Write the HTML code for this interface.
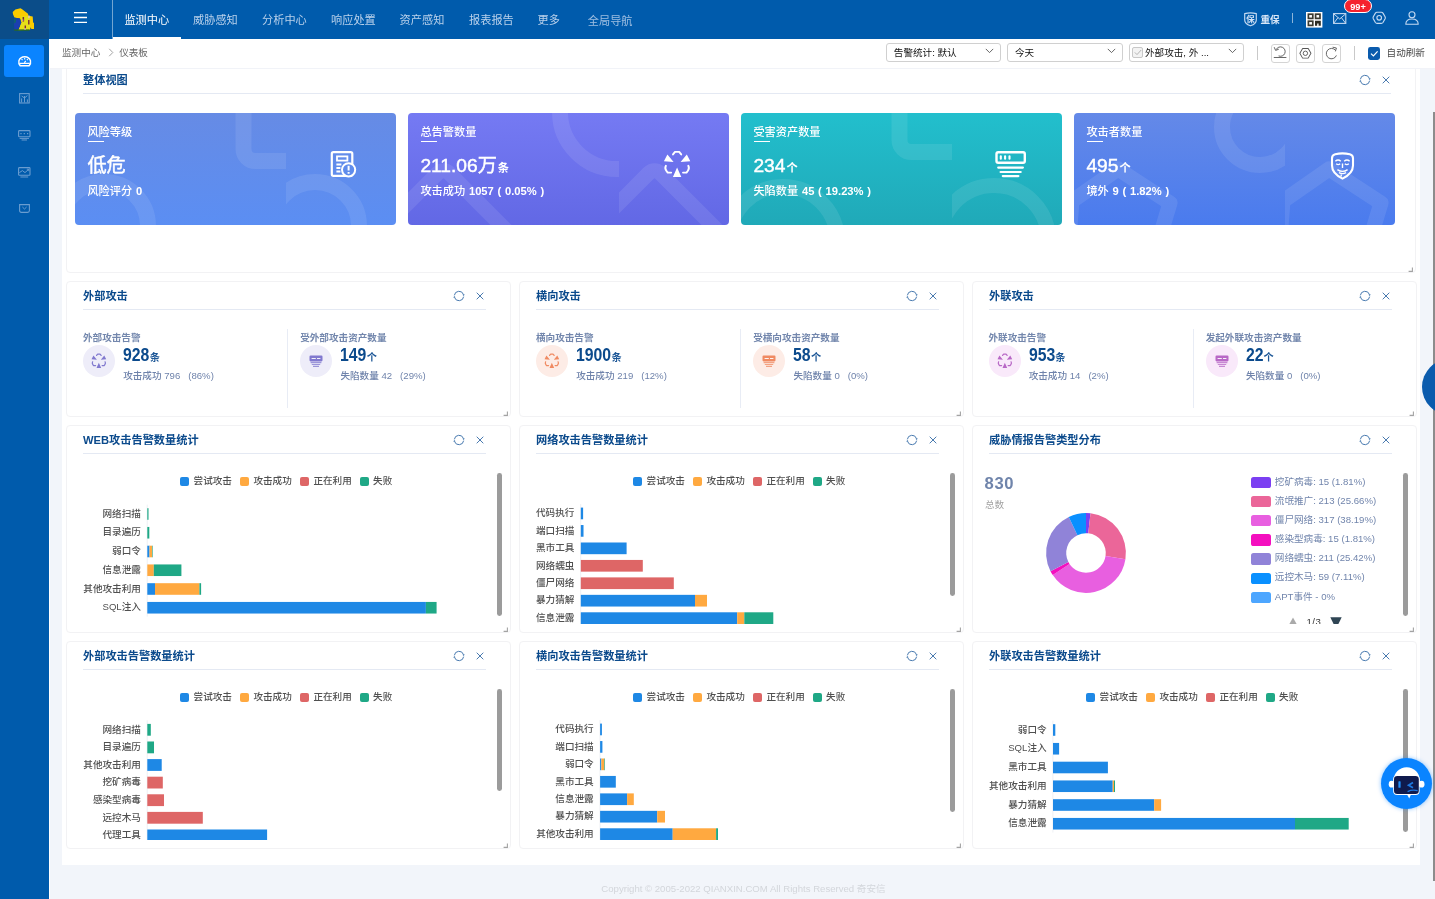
<!DOCTYPE html><html lang="zh-CN"><head><meta charset="utf-8"><title>仪表板</title><style>
*{box-sizing:border-box;margin:0;padding:0}
html,body{width:1435px;height:899px;overflow:hidden;background:#f2f5fa;font-family:"Liberation Sans","Noto Sans CJK SC",sans-serif;}
#root{position:relative;width:1435px;height:899px;overflow:hidden;background:#f2f5fa;}
.t{position:absolute;white-space:nowrap;}
.b{position:absolute;}
svg{position:absolute;overflow:visible}
.panel{position:absolute;background:#fff;border:1px solid #f2f2f4;border-radius:4px;}
.card{position:absolute;border-radius:4px;overflow:hidden;}
.card svg{left:0;top:0}
</style></head><body><div id="root">
<div class="b" style="left:49px;top:39px;width:1386px;height:29.5px;background:#fff;border-bottom:1px solid #f0f2f7;"></div>
<div class="b" style="left:49px;top:68px;width:1px;height:831px;background:#fff;"></div>
<div class="b" style="left:62px;top:69px;width:1358px;height:796px;background:#fff;"></div>
<div class="panel" style="left:66px;top:65px;width:1350px;height:208px;"></div><div class="t" style="left:83px;top:70.20px;font-size:11.2px;color:#0b4a8c;line-height:20px;font-weight:700;">整体视图</div><div class="b" style="left:83px;top:93px;width:1308px;height:1px;background:#e4e9f3;"></div><svg style="left:1357.9px;top:73.0px" width="14" height="14" viewBox="-7 -7 14 14"><g fill="none" stroke="#3f73ab" stroke-width="0.95"><path d="M-4.65 -0.65 A4.7 4.7 0 0 1 4.42 -1.61"/><path d="M4.65 0.65 A4.7 4.7 0 0 1 -4.42 1.61"/></g><path d="M4.96 -0.1 L5.5 -2.1 L3.3 -1.2 Z M-4.96 0.1 L-5.5 2.1 L-3.3 1.2 Z" fill="#3f73ab"/></svg><svg style="left:1380.9px;top:75.0px" width="10" height="10" viewBox="-5 -5 10 10"><path d="M-3.3 -3.3 L3.3 3.3 M3.3 -3.3 L-3.3 3.3" stroke="#3f73ab" stroke-width="0.95" fill="none"/></svg><svg style="left:1407.6px;top:266.6px" width="6" height="6" viewBox="0 0 6 6"><path d="M4.4 0.4 V4.4 H0.6" stroke="#a3a3a3" stroke-width="1.1" fill="none"/></svg>
<div class="panel" style="left:66px;top:281px;width:445px;height:136px;"></div><div class="t" style="left:83px;top:286.20px;font-size:11.2px;color:#0b4a8c;line-height:20px;font-weight:700;">外部攻击</div><div class="b" style="left:83px;top:309px;width:403px;height:1px;background:#e4e9f3;"></div><svg style="left:452.2px;top:289.0px" width="14" height="14" viewBox="-7 -7 14 14"><g fill="none" stroke="#3f73ab" stroke-width="0.95"><path d="M-4.65 -0.65 A4.7 4.7 0 0 1 4.42 -1.61"/><path d="M4.65 0.65 A4.7 4.7 0 0 1 -4.42 1.61"/></g><path d="M4.96 -0.1 L5.5 -2.1 L3.3 -1.2 Z M-4.96 0.1 L-5.5 2.1 L-3.3 1.2 Z" fill="#3f73ab"/></svg><svg style="left:475px;top:291.0px" width="10" height="10" viewBox="-5 -5 10 10"><path d="M-3.3 -3.3 L3.3 3.3 M3.3 -3.3 L-3.3 3.3" stroke="#3f73ab" stroke-width="0.95" fill="none"/></svg><svg style="left:502.6px;top:410.6px" width="6" height="6" viewBox="0 0 6 6"><path d="M4.4 0.4 V4.4 H0.6" stroke="#a3a3a3" stroke-width="1.1" fill="none"/></svg>
<div class="panel" style="left:519px;top:281px;width:445px;height:136px;"></div><div class="t" style="left:536px;top:286.20px;font-size:11.2px;color:#0b4a8c;line-height:20px;font-weight:700;">横向攻击</div><div class="b" style="left:536px;top:309px;width:403px;height:1px;background:#e4e9f3;"></div><svg style="left:905.2px;top:289.0px" width="14" height="14" viewBox="-7 -7 14 14"><g fill="none" stroke="#3f73ab" stroke-width="0.95"><path d="M-4.65 -0.65 A4.7 4.7 0 0 1 4.42 -1.61"/><path d="M4.65 0.65 A4.7 4.7 0 0 1 -4.42 1.61"/></g><path d="M4.96 -0.1 L5.5 -2.1 L3.3 -1.2 Z M-4.96 0.1 L-5.5 2.1 L-3.3 1.2 Z" fill="#3f73ab"/></svg><svg style="left:928px;top:291.0px" width="10" height="10" viewBox="-5 -5 10 10"><path d="M-3.3 -3.3 L3.3 3.3 M3.3 -3.3 L-3.3 3.3" stroke="#3f73ab" stroke-width="0.95" fill="none"/></svg><svg style="left:955.6px;top:410.6px" width="6" height="6" viewBox="0 0 6 6"><path d="M4.4 0.4 V4.4 H0.6" stroke="#a3a3a3" stroke-width="1.1" fill="none"/></svg>
<div class="panel" style="left:972px;top:281px;width:445px;height:136px;"></div><div class="t" style="left:989px;top:286.20px;font-size:11.2px;color:#0b4a8c;line-height:20px;font-weight:700;">外联攻击</div><div class="b" style="left:989px;top:309px;width:403px;height:1px;background:#e4e9f3;"></div><svg style="left:1358.2px;top:289.0px" width="14" height="14" viewBox="-7 -7 14 14"><g fill="none" stroke="#3f73ab" stroke-width="0.95"><path d="M-4.65 -0.65 A4.7 4.7 0 0 1 4.42 -1.61"/><path d="M4.65 0.65 A4.7 4.7 0 0 1 -4.42 1.61"/></g><path d="M4.96 -0.1 L5.5 -2.1 L3.3 -1.2 Z M-4.96 0.1 L-5.5 2.1 L-3.3 1.2 Z" fill="#3f73ab"/></svg><svg style="left:1381px;top:291.0px" width="10" height="10" viewBox="-5 -5 10 10"><path d="M-3.3 -3.3 L3.3 3.3 M3.3 -3.3 L-3.3 3.3" stroke="#3f73ab" stroke-width="0.95" fill="none"/></svg><svg style="left:1408.6px;top:410.6px" width="6" height="6" viewBox="0 0 6 6"><path d="M4.4 0.4 V4.4 H0.6" stroke="#a3a3a3" stroke-width="1.1" fill="none"/></svg>
<div class="panel" style="left:66px;top:425px;width:445px;height:208px;"></div><div class="t" style="left:83px;top:430.20px;font-size:11.2px;color:#0b4a8c;line-height:20px;font-weight:700;">WEB攻击告警数量统计</div><div class="b" style="left:83px;top:453px;width:403px;height:1px;background:#e4e9f3;"></div><svg style="left:452.2px;top:433.0px" width="14" height="14" viewBox="-7 -7 14 14"><g fill="none" stroke="#3f73ab" stroke-width="0.95"><path d="M-4.65 -0.65 A4.7 4.7 0 0 1 4.42 -1.61"/><path d="M4.65 0.65 A4.7 4.7 0 0 1 -4.42 1.61"/></g><path d="M4.96 -0.1 L5.5 -2.1 L3.3 -1.2 Z M-4.96 0.1 L-5.5 2.1 L-3.3 1.2 Z" fill="#3f73ab"/></svg><svg style="left:475px;top:435.0px" width="10" height="10" viewBox="-5 -5 10 10"><path d="M-3.3 -3.3 L3.3 3.3 M3.3 -3.3 L-3.3 3.3" stroke="#3f73ab" stroke-width="0.95" fill="none"/></svg><svg style="left:502.6px;top:626.6px" width="6" height="6" viewBox="0 0 6 6"><path d="M4.4 0.4 V4.4 H0.6" stroke="#a3a3a3" stroke-width="1.1" fill="none"/></svg>
<div class="panel" style="left:519px;top:425px;width:445px;height:208px;"></div><div class="t" style="left:536px;top:430.20px;font-size:11.2px;color:#0b4a8c;line-height:20px;font-weight:700;">网络攻击告警数量统计</div><div class="b" style="left:536px;top:453px;width:403px;height:1px;background:#e4e9f3;"></div><svg style="left:905.2px;top:433.0px" width="14" height="14" viewBox="-7 -7 14 14"><g fill="none" stroke="#3f73ab" stroke-width="0.95"><path d="M-4.65 -0.65 A4.7 4.7 0 0 1 4.42 -1.61"/><path d="M4.65 0.65 A4.7 4.7 0 0 1 -4.42 1.61"/></g><path d="M4.96 -0.1 L5.5 -2.1 L3.3 -1.2 Z M-4.96 0.1 L-5.5 2.1 L-3.3 1.2 Z" fill="#3f73ab"/></svg><svg style="left:928px;top:435.0px" width="10" height="10" viewBox="-5 -5 10 10"><path d="M-3.3 -3.3 L3.3 3.3 M3.3 -3.3 L-3.3 3.3" stroke="#3f73ab" stroke-width="0.95" fill="none"/></svg><svg style="left:955.6px;top:626.6px" width="6" height="6" viewBox="0 0 6 6"><path d="M4.4 0.4 V4.4 H0.6" stroke="#a3a3a3" stroke-width="1.1" fill="none"/></svg>
<div class="panel" style="left:972px;top:425px;width:445px;height:208px;"></div><div class="t" style="left:989px;top:430.20px;font-size:11.2px;color:#0b4a8c;line-height:20px;font-weight:700;">威胁情报告警类型分布</div><div class="b" style="left:989px;top:453px;width:403px;height:1px;background:#e4e9f3;"></div><svg style="left:1358.2px;top:433.0px" width="14" height="14" viewBox="-7 -7 14 14"><g fill="none" stroke="#3f73ab" stroke-width="0.95"><path d="M-4.65 -0.65 A4.7 4.7 0 0 1 4.42 -1.61"/><path d="M4.65 0.65 A4.7 4.7 0 0 1 -4.42 1.61"/></g><path d="M4.96 -0.1 L5.5 -2.1 L3.3 -1.2 Z M-4.96 0.1 L-5.5 2.1 L-3.3 1.2 Z" fill="#3f73ab"/></svg><svg style="left:1381px;top:435.0px" width="10" height="10" viewBox="-5 -5 10 10"><path d="M-3.3 -3.3 L3.3 3.3 M3.3 -3.3 L-3.3 3.3" stroke="#3f73ab" stroke-width="0.95" fill="none"/></svg><svg style="left:1408.6px;top:626.6px" width="6" height="6" viewBox="0 0 6 6"><path d="M4.4 0.4 V4.4 H0.6" stroke="#a3a3a3" stroke-width="1.1" fill="none"/></svg>
<div class="panel" style="left:66px;top:641px;width:445px;height:208px;"></div><div class="t" style="left:83px;top:646.20px;font-size:11.2px;color:#0b4a8c;line-height:20px;font-weight:700;">外部攻击告警数量统计</div><div class="b" style="left:83px;top:669px;width:403px;height:1px;background:#e4e9f3;"></div><svg style="left:452.2px;top:649.0px" width="14" height="14" viewBox="-7 -7 14 14"><g fill="none" stroke="#3f73ab" stroke-width="0.95"><path d="M-4.65 -0.65 A4.7 4.7 0 0 1 4.42 -1.61"/><path d="M4.65 0.65 A4.7 4.7 0 0 1 -4.42 1.61"/></g><path d="M4.96 -0.1 L5.5 -2.1 L3.3 -1.2 Z M-4.96 0.1 L-5.5 2.1 L-3.3 1.2 Z" fill="#3f73ab"/></svg><svg style="left:475px;top:651.0px" width="10" height="10" viewBox="-5 -5 10 10"><path d="M-3.3 -3.3 L3.3 3.3 M3.3 -3.3 L-3.3 3.3" stroke="#3f73ab" stroke-width="0.95" fill="none"/></svg><svg style="left:502.6px;top:842.6px" width="6" height="6" viewBox="0 0 6 6"><path d="M4.4 0.4 V4.4 H0.6" stroke="#a3a3a3" stroke-width="1.1" fill="none"/></svg>
<div class="panel" style="left:519px;top:641px;width:445px;height:208px;"></div><div class="t" style="left:536px;top:646.20px;font-size:11.2px;color:#0b4a8c;line-height:20px;font-weight:700;">横向攻击告警数量统计</div><div class="b" style="left:536px;top:669px;width:403px;height:1px;background:#e4e9f3;"></div><svg style="left:905.2px;top:649.0px" width="14" height="14" viewBox="-7 -7 14 14"><g fill="none" stroke="#3f73ab" stroke-width="0.95"><path d="M-4.65 -0.65 A4.7 4.7 0 0 1 4.42 -1.61"/><path d="M4.65 0.65 A4.7 4.7 0 0 1 -4.42 1.61"/></g><path d="M4.96 -0.1 L5.5 -2.1 L3.3 -1.2 Z M-4.96 0.1 L-5.5 2.1 L-3.3 1.2 Z" fill="#3f73ab"/></svg><svg style="left:928px;top:651.0px" width="10" height="10" viewBox="-5 -5 10 10"><path d="M-3.3 -3.3 L3.3 3.3 M3.3 -3.3 L-3.3 3.3" stroke="#3f73ab" stroke-width="0.95" fill="none"/></svg><svg style="left:955.6px;top:842.6px" width="6" height="6" viewBox="0 0 6 6"><path d="M4.4 0.4 V4.4 H0.6" stroke="#a3a3a3" stroke-width="1.1" fill="none"/></svg>
<div class="panel" style="left:972px;top:641px;width:445px;height:208px;"></div><div class="t" style="left:989px;top:646.20px;font-size:11.2px;color:#0b4a8c;line-height:20px;font-weight:700;">外联攻击告警数量统计</div><div class="b" style="left:989px;top:669px;width:403px;height:1px;background:#e4e9f3;"></div><svg style="left:1358.2px;top:649.0px" width="14" height="14" viewBox="-7 -7 14 14"><g fill="none" stroke="#3f73ab" stroke-width="0.95"><path d="M-4.65 -0.65 A4.7 4.7 0 0 1 4.42 -1.61"/><path d="M4.65 0.65 A4.7 4.7 0 0 1 -4.42 1.61"/></g><path d="M4.96 -0.1 L5.5 -2.1 L3.3 -1.2 Z M-4.96 0.1 L-5.5 2.1 L-3.3 1.2 Z" fill="#3f73ab"/></svg><svg style="left:1381px;top:651.0px" width="10" height="10" viewBox="-5 -5 10 10"><path d="M-3.3 -3.3 L3.3 3.3 M3.3 -3.3 L-3.3 3.3" stroke="#3f73ab" stroke-width="0.95" fill="none"/></svg><svg style="left:1408.6px;top:842.6px" width="6" height="6" viewBox="0 0 6 6"><path d="M4.4 0.4 V4.4 H0.6" stroke="#a3a3a3" stroke-width="1.1" fill="none"/></svg>
<div class="card" style="left:75px;top:113px;width:321px;height:112px;background:linear-gradient(180deg,#668be5 0%,#5b8ef3 100%);"><svg width="321" height="112" viewBox="0 0 321 112"><defs><clipPath id="c1a"><rect x="0" y="0" width="211" height="112"/></clipPath><clipPath id="c1b"><rect x="211" y="0" width="110" height="112"/></clipPath></defs><circle cx="29" cy="113" r="44.0" fill="none" stroke="rgba(255,255,255,0.09)" stroke-width="16" clip-path="url(#c1a)"/><circle cx="240" cy="113" r="44.0" fill="none" stroke="rgba(255,255,255,0.09)" stroke-width="16" clip-path="url(#c1b)"/><path d="M168.5 -20 V36 a12 12 0 0 0 12 12 H230" fill="none" stroke="rgba(255,255,255,0.09)" stroke-width="16" clip-path="url(#c1a)"/></svg></div><div class="t" style="left:87.4px;top:122.20px;font-size:11.2px;color:#fff;line-height:20px;font-weight:500;">风险等级</div><div class="b" style="left:87.6px;top:141px;width:16px;height:1px;background:#fff;"></div><div class="t" style="left:87.4px;top:152.90px;font-size:19.2px;color:#fff;line-height:26px;-webkit-text-stroke:0.45px #fff;">低危</div><div class="t" style="left:87.4px;top:181.30px;font-size:11.2px;color:#fff;line-height:20px;font-weight:500;word-spacing:0.65px;">风险评分<b> 0</b></div><svg style="left:330px;top:151px" width="27" height="27" viewBox="0 0 27 27"><rect x="1.8" y="1.2" width="20.5" height="23.6" rx="1.6" fill="none" stroke="#fff" stroke-width="2.2"/><rect x="7" y="5.4" width="10.4" height="4.2" fill="none" stroke="#fff" stroke-width="1.8"/><path d="M6.4 13.6 h5 M6.4 17 h4 M6.4 20.6 h4" stroke="#fff" stroke-width="2"/><circle cx="18.6" cy="18.8" r="6.6" fill="#5f8cec" stroke="#fff" stroke-width="2"/><path d="M18.6 14.8 v4.6 M18.6 21 v1.8" stroke="#fff" stroke-width="2"/></svg>
<div class="card" style="left:408px;top:113px;width:321px;height:112px;background:linear-gradient(180deg,#757af3 0%,#6268e5 100%);"><svg width="321" height="112" viewBox="0 0 321 112"><defs><clipPath id="c2a"><rect x="0" y="0" width="211" height="112"/></clipPath><clipPath id="c2b"><rect x="211" y="0" width="110" height="112"/></clipPath></defs><circle cx="209" cy="-1" r="57.0" fill="none" stroke="rgba(255,255,255,0.09)" stroke-width="16" clip-path="url(#c2a)"/><path d="M-40 130 L30 60 a8 8 0 0 1 11 0 L111 130" fill="none" stroke="rgba(255,255,255,0.09)" stroke-width="15" clip-path="url(#c2a)"/><path d="M171 130 L241 60 a8 8 0 0 1 11 0 L322 130" fill="none" stroke="rgba(255,255,255,0.09)" stroke-width="15" clip-path="url(#c2b)"/></svg></div><div class="t" style="left:420.4px;top:122.20px;font-size:11.2px;color:#fff;line-height:20px;font-weight:500;">总告警数量</div><div class="b" style="left:420.6px;top:141px;width:16px;height:1px;background:#fff;"></div><div class="t" style="left:420.4px;top:152.90px;font-size:19.2px;color:#fff;line-height:26px;-webkit-text-stroke:0.45px #fff;">211.06万<span style="font-size:11.2px;font-weight:700;margin-left:1px;-webkit-text-stroke:0">条</span></div><div class="t" style="left:420.4px;top:181.30px;font-size:11.2px;color:#fff;line-height:20px;font-weight:500;word-spacing:0.65px;">攻击成功<b> 1057 ( 0.05% )</b></div><svg style="left:663.2px;top:150.1px" width="28" height="28" viewBox="0 0 28 28"><g fill="none" stroke="#fff" stroke-width="1.9" stroke-linecap="round" stroke-linejoin="round"><path d="M10 4.4 L12 1.9 H16.2 L18.2 4.4"/><path d="M2.9 15.8 Q1.5 18.4 3.3 20.8 L4.7 22.6 H8.2"/><path d="M25.3 15.8 Q26.7 18.4 24.9 20.8 L23.5 22.6 H20"/></g><path d="M4.4 4.6 L0.9 11.2 L10.6 12 Z M23.8 4.6 L17.6 12 L27.3 11.2 Z M14.1 17.6 L9.9 27.1 H18.3 Z" fill="#fff"/></svg>
<div class="card" style="left:741px;top:113px;width:321px;height:112px;background:linear-gradient(180deg,#22bfcd 0%,#20a9b8 100%);"><svg width="321" height="112" viewBox="0 0 321 112"><defs><clipPath id="c3a"><rect x="0" y="0" width="211" height="112"/></clipPath><clipPath id="c3b"><rect x="211" y="0" width="110" height="112"/></clipPath></defs><circle cx="42" cy="128" r="54.5" fill="none" stroke="rgba(255,255,255,0.09)" stroke-width="15" clip-path="url(#c3a)"/><circle cx="253" cy="127" r="54.5" fill="none" stroke="rgba(255,255,255,0.09)" stroke-width="15" clip-path="url(#c3b)"/><path d="M158.5 -20 V27 a12 12 0 0 0 12 12 H220" fill="none" stroke="rgba(255,255,255,0.09)" stroke-width="16" clip-path="url(#c3a)"/></svg></div><div class="t" style="left:753.4px;top:122.20px;font-size:11.2px;color:#fff;line-height:20px;font-weight:500;">受害资产数量</div><div class="b" style="left:753.6px;top:141px;width:16px;height:1px;background:#fff;"></div><div class="t" style="left:753.4px;top:152.90px;font-size:19.2px;color:#fff;line-height:26px;-webkit-text-stroke:0.45px #fff;">234<span style="font-size:11.2px;font-weight:700;margin-left:1px;-webkit-text-stroke:0">个</span></div><div class="t" style="left:753.4px;top:181.30px;font-size:11.2px;color:#fff;line-height:20px;font-weight:500;word-spacing:0.65px;">失陷数量<b> 45 ( 19.23% )</b></div><svg style="left:994.5px;top:151px" width="32" height="27" viewBox="0 0 32 27"><rect x="1.5" y="1.3" width="28.3" height="10.5" rx="1.7" fill="none" stroke="#fff" stroke-width="2.4"/><path d="M5.8 5.2 v2.6 M10.1 5.2 v2.6 M14.5 5.2 v2.6" stroke="#fff" stroke-width="2.1" stroke-linecap="round"/><path d="M3.2 16.6 H27.9 M5.6 21 H25.7 M7.8 25.1 H23.4" stroke="#fff" stroke-width="2.2" stroke-linecap="round"/></svg>
<div class="card" style="left:1074px;top:113px;width:321px;height:112px;background:linear-gradient(180deg,#6489e8 0%,#4a7bee 100%);"><svg width="321" height="112" viewBox="0 0 321 112"><defs><clipPath id="c4a"><rect x="0" y="0" width="211" height="112"/></clipPath><clipPath id="c4b"><rect x="211" y="0" width="110" height="112"/></clipPath></defs><circle cx="186" cy="14" r="38.0" fill="none" stroke="rgba(255,255,255,0.09)" stroke-width="16" clip-path="url(#c4a)"/><path d="M-6 140 L-2 88 L44 56 L96 90 L78 150" fill="none" stroke="rgba(255,255,255,0.09)" stroke-width="15" stroke-linejoin="round" clip-path="url(#c4a)"/><path d="M205 140 L209 88 L255 56 L307 90 L289 150" fill="none" stroke="rgba(255,255,255,0.09)" stroke-width="15" stroke-linejoin="round" clip-path="url(#c4b)"/></svg></div><div class="t" style="left:1086.4px;top:122.20px;font-size:11.2px;color:#fff;line-height:20px;font-weight:500;">攻击者数量</div><div class="b" style="left:1086.6px;top:141px;width:16px;height:1px;background:#fff;"></div><div class="t" style="left:1086.4px;top:152.90px;font-size:19.2px;color:#fff;line-height:26px;-webkit-text-stroke:0.45px #fff;">495<span style="font-size:11.2px;font-weight:700;margin-left:1px;-webkit-text-stroke:0">个</span></div><div class="t" style="left:1086.4px;top:181.30px;font-size:11.2px;color:#fff;line-height:20px;font-weight:500;word-spacing:0.65px;">境外<b> 9 ( 1.82% )</b></div><svg style="left:1330px;top:152px" width="25" height="28" viewBox="0 0 25 28"><path d="M5.2 2.2 Q12.5 0.6 19.8 2.2 Q23 3 23 6.2 V13.6 Q23 21.6 12.5 26.6 Q2 21.6 2 13.6 V6.2 Q2 3 5.2 2.2 Z" fill="none" stroke="#fff" stroke-width="2.1"/><path d="M5.4 9.2 q2.6 -2.4 5.4 0 M14.2 9.2 q2.8 -2.4 5.4 0" fill="none" stroke="#fff" stroke-width="1.5"/><path d="M6.2 11.8 q2 1.6 4 0 M14.8 11.8 q2 1.6 4 0" fill="none" stroke="#fff" stroke-width="1.4"/><path d="M12.5 11.5 v4.6 M7.4 17.6 q5.1 3.6 10.2 0 M9 20.6 q3.5 2 7 0 M11.2 22.4 v2" fill="none" stroke="#fff" stroke-width="1.4"/></svg>
<div class="t" style="left:83px;top:327.60px;font-size:9.6px;color:#7387ad;line-height:20px;font-weight:700;">外部攻击告警</div><div class="b" style="left:83px;top:345px;width:32px;height:32px;background:#eeedf9;border-radius:50%;"></div><svg style="left:91.2px;top:353.4px" width="15.6" height="15.6" viewBox="0 0 28 28"><g fill="none" stroke="#8179cf" stroke-width="2.2" stroke-linecap="round" stroke-linejoin="round"><path d="M10 4.4 L12 1.9 H16.2 L18.2 4.4"/><path d="M2.9 15.8 Q1.5 18.4 3.3 20.8 L4.7 22.6 H8.2"/><path d="M25.3 15.8 Q26.7 18.4 24.9 20.8 L23.5 22.6 H20"/></g><path d="M4.4 4.6 L0.9 11.2 L10.6 12 Z M23.8 4.6 L17.6 12 L27.3 11.2 Z M14.1 17.6 L9.9 27.1 H18.3 Z" fill="#8179cf"/></svg><div class="t" style="left:123.2px;top:343.40px;font-size:17.8px;color:#0b4a8c;line-height:24px;font-weight:700;"><span style="display:inline-block;transform:scaleX(0.888);transform-origin:0 50%">928</span></div><div class="t" style="left:149.65px;top:349.80px;font-size:10.2px;color:#1d5797;line-height:16px;font-weight:700;">条</div><div class="t" style="left:123.2px;top:365.70px;font-size:9.6px;color:#6f83ab;line-height:20px;font-weight:500;">攻击成功 796&nbsp;&nbsp;&nbsp;(86%)</div>
<div class="b" style="left:287px;top:329px;width:1px;height:79px;background:#e8ecf5;"></div>
<div class="t" style="left:300.2px;top:327.60px;font-size:9.6px;color:#7387ad;line-height:20px;font-weight:700;">受外部攻击资产数量</div><div class="b" style="left:300.2px;top:345px;width:32px;height:32px;background:#eeedf9;border-radius:50%;"></div><svg style="left:309.2px;top:354.59999999999997px" width="14" height="13" viewBox="0 0 14 13"><rect x="0.5" y="0.6" width="13" height="5.8" rx="1.1" fill="#8179cf"/><path d="M2.6 3.5 h4.2 M8 3.5 h3.4" stroke="#fff" stroke-width="1.1" opacity="0.9"/><path d="M1.6 7.6 h10.8 M2.8 9.5 h8.4 M4 11.4 h6" stroke="#8179cf" stroke-width="1.2" opacity="0.75"/></svg><div class="t" style="left:340.4px;top:343.40px;font-size:17.8px;color:#0b4a8c;line-height:24px;font-weight:700;"><span style="display:inline-block;transform:scaleX(0.888);transform-origin:0 50%">149</span></div><div class="t" style="left:366.84999999999997px;top:349.80px;font-size:10.2px;color:#1d5797;line-height:16px;font-weight:700;">个</div><div class="t" style="left:340.4px;top:365.70px;font-size:9.6px;color:#6f83ab;line-height:20px;font-weight:500;">失陷数量 42&nbsp;&nbsp;&nbsp;(29%)</div>
<div class="t" style="left:536px;top:327.60px;font-size:9.6px;color:#7387ad;line-height:20px;font-weight:700;">横向攻击告警</div><div class="b" style="left:536px;top:345px;width:32px;height:32px;background:#fdece6;border-radius:50%;"></div><svg style="left:544.2px;top:353.4px" width="15.6" height="15.6" viewBox="0 0 28 28"><g fill="none" stroke="#f08a62" stroke-width="2.2" stroke-linecap="round" stroke-linejoin="round"><path d="M10 4.4 L12 1.9 H16.2 L18.2 4.4"/><path d="M2.9 15.8 Q1.5 18.4 3.3 20.8 L4.7 22.6 H8.2"/><path d="M25.3 15.8 Q26.7 18.4 24.9 20.8 L23.5 22.6 H20"/></g><path d="M4.4 4.6 L0.9 11.2 L10.6 12 Z M23.8 4.6 L17.6 12 L27.3 11.2 Z M14.1 17.6 L9.9 27.1 H18.3 Z" fill="#f08a62"/></svg><div class="t" style="left:576.2px;top:343.40px;font-size:17.8px;color:#0b4a8c;line-height:24px;font-weight:700;"><span style="display:inline-block;transform:scaleX(0.888);transform-origin:0 50%">1900</span></div><div class="t" style="left:611.4px;top:349.80px;font-size:10.2px;color:#1d5797;line-height:16px;font-weight:700;">条</div><div class="t" style="left:576.2px;top:365.70px;font-size:9.6px;color:#6f83ab;line-height:20px;font-weight:500;">攻击成功 219&nbsp;&nbsp;&nbsp;(12%)</div>
<div class="b" style="left:740px;top:329px;width:1px;height:79px;background:#e8ecf5;"></div>
<div class="t" style="left:753.2px;top:327.60px;font-size:9.6px;color:#7387ad;line-height:20px;font-weight:700;">受横向攻击资产数量</div><div class="b" style="left:753.2px;top:345px;width:32px;height:32px;background:#fdece6;border-radius:50%;"></div><svg style="left:762.2px;top:354.59999999999997px" width="14" height="13" viewBox="0 0 14 13"><rect x="0.5" y="0.6" width="13" height="5.8" rx="1.1" fill="#f08a62"/><path d="M2.6 3.5 h4.2 M8 3.5 h3.4" stroke="#fff" stroke-width="1.1" opacity="0.9"/><path d="M1.6 7.6 h10.8 M2.8 9.5 h8.4 M4 11.4 h6" stroke="#f08a62" stroke-width="1.2" opacity="0.75"/></svg><div class="t" style="left:793.4000000000001px;top:343.40px;font-size:17.8px;color:#0b4a8c;line-height:24px;font-weight:700;"><span style="display:inline-block;transform:scaleX(0.888);transform-origin:0 50%">58</span></div><div class="t" style="left:811.1px;top:349.80px;font-size:10.2px;color:#1d5797;line-height:16px;font-weight:700;">个</div><div class="t" style="left:793.4000000000001px;top:365.70px;font-size:9.6px;color:#6f83ab;line-height:20px;font-weight:500;">失陷数量 0&nbsp;&nbsp;&nbsp;(0%)</div>
<div class="t" style="left:988.5px;top:327.60px;font-size:9.6px;color:#7387ad;line-height:20px;font-weight:700;">外联攻击告警</div><div class="b" style="left:988.5px;top:345px;width:32px;height:32px;background:#f9e9fa;border-radius:50%;"></div><svg style="left:996.7px;top:353.4px" width="15.6" height="15.6" viewBox="0 0 28 28"><g fill="none" stroke="#b868c6" stroke-width="2.2" stroke-linecap="round" stroke-linejoin="round"><path d="M10 4.4 L12 1.9 H16.2 L18.2 4.4"/><path d="M2.9 15.8 Q1.5 18.4 3.3 20.8 L4.7 22.6 H8.2"/><path d="M25.3 15.8 Q26.7 18.4 24.9 20.8 L23.5 22.6 H20"/></g><path d="M4.4 4.6 L0.9 11.2 L10.6 12 Z M23.8 4.6 L17.6 12 L27.3 11.2 Z M14.1 17.6 L9.9 27.1 H18.3 Z" fill="#b868c6"/></svg><div class="t" style="left:1028.7px;top:343.40px;font-size:17.8px;color:#0b4a8c;line-height:24px;font-weight:700;"><span style="display:inline-block;transform:scaleX(0.888);transform-origin:0 50%">953</span></div><div class="t" style="left:1055.15px;top:349.80px;font-size:10.2px;color:#1d5797;line-height:16px;font-weight:700;">条</div><div class="t" style="left:1028.7px;top:365.70px;font-size:9.6px;color:#6f83ab;line-height:20px;font-weight:500;">攻击成功 14&nbsp;&nbsp;&nbsp;(2%)</div>
<div class="b" style="left:1192.5px;top:329px;width:1px;height:79px;background:#e8ecf5;"></div>
<div class="t" style="left:1205.7px;top:327.60px;font-size:9.6px;color:#7387ad;line-height:20px;font-weight:700;">发起外联攻击资产数量</div><div class="b" style="left:1205.7px;top:345px;width:32px;height:32px;background:#f9e9fa;border-radius:50%;"></div><svg style="left:1214.7px;top:354.59999999999997px" width="14" height="13" viewBox="0 0 14 13"><rect x="0.5" y="0.6" width="13" height="5.8" rx="1.1" fill="#b868c6"/><path d="M2.6 3.5 h4.2 M8 3.5 h3.4" stroke="#fff" stroke-width="1.1" opacity="0.9"/><path d="M1.6 7.6 h10.8 M2.8 9.5 h8.4 M4 11.4 h6" stroke="#b868c6" stroke-width="1.2" opacity="0.75"/></svg><div class="t" style="left:1245.9px;top:343.40px;font-size:17.8px;color:#0b4a8c;line-height:24px;font-weight:700;"><span style="display:inline-block;transform:scaleX(0.888);transform-origin:0 50%">22</span></div><div class="t" style="left:1263.6000000000001px;top:349.80px;font-size:10.2px;color:#1d5797;line-height:16px;font-weight:700;">个</div><div class="t" style="left:1245.9px;top:365.70px;font-size:9.6px;color:#6f83ab;line-height:20px;font-weight:500;">失陷数量 0&nbsp;&nbsp;&nbsp;(0%)</div>
<div class="b" style="left:180px;top:477.3px;width:9.2px;height:9.2px;background:#1e88e5;border-radius:2px;"></div><div class="t" style="left:193.6px;top:471.20px;font-size:9.6px;color:#505050;line-height:20px;font-weight:500;">尝试攻击</div><div class="b" style="left:239.8px;top:477.3px;width:9.2px;height:9.2px;background:#ffa940;border-radius:2px;"></div><div class="t" style="left:253.4px;top:471.20px;font-size:9.6px;color:#505050;line-height:20px;font-weight:500;">攻击成功</div><div class="b" style="left:299.8px;top:477.3px;width:9.2px;height:9.2px;background:#de6666;border-radius:2px;"></div><div class="t" style="left:313.40000000000003px;top:471.20px;font-size:9.6px;color:#505050;line-height:20px;font-weight:500;">正在利用</div><div class="b" style="left:359.5px;top:477.3px;width:9.2px;height:9.2px;background:#1fa886;border-radius:2px;"></div><div class="t" style="left:373.1px;top:471.20px;font-size:9.6px;color:#505050;line-height:20px;font-weight:500;">失败</div><div class="t" style="left:20.900000000000006px;width:120px;text-align:right;top:503.70px;font-size:9.6px;color:#505050;line-height:20px;font-weight:500;">网络扫描</div><div class="t" style="left:20.900000000000006px;width:120px;text-align:right;top:522.45px;font-size:9.6px;color:#505050;line-height:20px;font-weight:500;">目录遍历</div><div class="t" style="left:20.900000000000006px;width:120px;text-align:right;top:541.20px;font-size:9.6px;color:#505050;line-height:20px;font-weight:500;">弱口令</div><div class="t" style="left:20.900000000000006px;width:120px;text-align:right;top:559.95px;font-size:9.6px;color:#505050;line-height:20px;font-weight:500;">信息泄露</div><div class="t" style="left:20.900000000000006px;width:120px;text-align:right;top:578.70px;font-size:9.6px;color:#505050;line-height:20px;font-weight:500;">其他攻击利用</div><div class="t" style="left:20.900000000000006px;width:120px;text-align:right;top:597.45px;font-size:9.6px;color:#505050;line-height:20px;font-weight:500;">SQL注入</div><svg style="left:66px;top:425px;overflow:hidden" width="445" height="199.2" viewBox="0 0 445 199.2"><rect x="80.70" y="79.60" width="1" height="112.00" fill="#eef0f4"/><rect x="81.30" y="83.20" width="1.20" height="11.6" fill="#1fa886"/><rect x="81.30" y="101.95" width="2.00" height="11.6" fill="#1fa886"/><rect x="81.30" y="120.70" width="2.20" height="11.6" fill="#1e88e5"/><rect x="83.50" y="120.70" width="2.60" height="11.6" fill="#ffa940"/><rect x="86.10" y="120.70" width="0.60" height="11.6" fill="#1fa886"/><rect x="81.30" y="139.45" width="6.50" height="11.6" fill="#ffa940"/><rect x="87.80" y="139.45" width="27.60" height="11.6" fill="#1fa886"/><rect x="81.30" y="158.20" width="7.70" height="11.6" fill="#1e88e5"/><rect x="89.00" y="158.20" width="44.40" height="11.6" fill="#ffa940"/><rect x="133.40" y="158.20" width="1.70" height="11.6" fill="#1fa886"/><rect x="81.30" y="176.95" width="278.60" height="11.6" fill="#1e88e5"/><rect x="359.90" y="176.95" width="10.70" height="11.6" fill="#1fa886"/></svg><div class="b" style="left:497.2px;top:473px;width:4.8px;height:143px;background:#9b9b9b;border-radius:2.4px;"></div>
<div class="b" style="left:633px;top:477.3px;width:9.2px;height:9.2px;background:#1e88e5;border-radius:2px;"></div><div class="t" style="left:646.6px;top:471.20px;font-size:9.6px;color:#505050;line-height:20px;font-weight:500;">尝试攻击</div><div class="b" style="left:692.8px;top:477.3px;width:9.2px;height:9.2px;background:#ffa940;border-radius:2px;"></div><div class="t" style="left:706.4px;top:471.20px;font-size:9.6px;color:#505050;line-height:20px;font-weight:500;">攻击成功</div><div class="b" style="left:752.8px;top:477.3px;width:9.2px;height:9.2px;background:#de6666;border-radius:2px;"></div><div class="t" style="left:766.4px;top:471.20px;font-size:9.6px;color:#505050;line-height:20px;font-weight:500;">正在利用</div><div class="b" style="left:812.5px;top:477.3px;width:9.2px;height:9.2px;background:#1fa886;border-radius:2px;"></div><div class="t" style="left:826.1px;top:471.20px;font-size:9.6px;color:#505050;line-height:20px;font-weight:500;">失败</div><div class="t" style="left:454.4px;width:120px;text-align:right;top:503.15px;font-size:9.6px;color:#505050;line-height:20px;font-weight:500;">代码执行</div><div class="t" style="left:454.4px;width:120px;text-align:right;top:520.60px;font-size:9.6px;color:#505050;line-height:20px;font-weight:500;">端口扫描</div><div class="t" style="left:454.4px;width:120px;text-align:right;top:538.05px;font-size:9.6px;color:#505050;line-height:20px;font-weight:500;">黑市工具</div><div class="t" style="left:454.4px;width:120px;text-align:right;top:555.50px;font-size:9.6px;color:#505050;line-height:20px;font-weight:500;">网络蠕虫</div><div class="t" style="left:454.4px;width:120px;text-align:right;top:572.95px;font-size:9.6px;color:#505050;line-height:20px;font-weight:500;">僵尸网络</div><div class="t" style="left:454.4px;width:120px;text-align:right;top:590.40px;font-size:9.6px;color:#505050;line-height:20px;font-weight:500;">暴力猜解</div><div class="t" style="left:454.4px;width:120px;text-align:right;top:607.85px;font-size:9.6px;color:#505050;line-height:20px;font-weight:500;">信息泄露</div><svg style="left:519px;top:425px;overflow:hidden" width="445" height="199.2" viewBox="0 0 445 199.2"><rect x="61.20" y="79.00" width="1" height="121.65" fill="#eef0f4"/><rect x="61.80" y="82.60" width="2.30" height="11.7" fill="#1e88e5"/><rect x="61.80" y="100.05" width="2.70" height="11.7" fill="#1e88e5"/><rect x="61.80" y="117.50" width="45.80" height="11.7" fill="#1e88e5"/><rect x="61.80" y="134.95" width="62.00" height="11.7" fill="#de6666"/><rect x="61.80" y="152.40" width="93.00" height="11.7" fill="#de6666"/><rect x="61.80" y="169.85" width="114.20" height="11.7" fill="#1e88e5"/><rect x="176.00" y="169.85" width="12.00" height="11.7" fill="#ffa940"/><rect x="61.80" y="187.30" width="156.40" height="11.7" fill="#1e88e5"/><rect x="218.20" y="187.30" width="7.10" height="11.7" fill="#ffa940"/><rect x="225.30" y="187.30" width="29.00" height="11.7" fill="#1fa886"/></svg><div class="b" style="left:950.2px;top:473px;width:4.8px;height:123px;background:#9b9b9b;border-radius:2.4px;"></div>
<div class="b" style="left:180px;top:693.3px;width:9.2px;height:9.2px;background:#1e88e5;border-radius:2px;"></div><div class="t" style="left:193.6px;top:687.20px;font-size:9.6px;color:#505050;line-height:20px;font-weight:500;">尝试攻击</div><div class="b" style="left:239.8px;top:693.3px;width:9.2px;height:9.2px;background:#ffa940;border-radius:2px;"></div><div class="t" style="left:253.4px;top:687.20px;font-size:9.6px;color:#505050;line-height:20px;font-weight:500;">攻击成功</div><div class="b" style="left:299.8px;top:693.3px;width:9.2px;height:9.2px;background:#de6666;border-radius:2px;"></div><div class="t" style="left:313.40000000000003px;top:687.20px;font-size:9.6px;color:#505050;line-height:20px;font-weight:500;">正在利用</div><div class="b" style="left:359.5px;top:693.3px;width:9.2px;height:9.2px;background:#1fa886;border-radius:2px;"></div><div class="t" style="left:373.1px;top:687.20px;font-size:9.6px;color:#505050;line-height:20px;font-weight:500;">失败</div><div class="t" style="left:20.900000000000006px;width:120px;text-align:right;top:719.50px;font-size:9.6px;color:#505050;line-height:20px;font-weight:500;">网络扫描</div><div class="t" style="left:20.900000000000006px;width:120px;text-align:right;top:737.10px;font-size:9.6px;color:#505050;line-height:20px;font-weight:500;">目录遍历</div><div class="t" style="left:20.900000000000006px;width:120px;text-align:right;top:754.70px;font-size:9.6px;color:#505050;line-height:20px;font-weight:500;">其他攻击利用</div><div class="t" style="left:20.900000000000006px;width:120px;text-align:right;top:772.30px;font-size:9.6px;color:#505050;line-height:20px;font-weight:500;">挖矿病毒</div><div class="t" style="left:20.900000000000006px;width:120px;text-align:right;top:789.90px;font-size:9.6px;color:#505050;line-height:20px;font-weight:500;">感染型病毒</div><div class="t" style="left:20.900000000000006px;width:120px;text-align:right;top:807.50px;font-size:9.6px;color:#505050;line-height:20px;font-weight:500;">远控木马</div><div class="t" style="left:20.900000000000006px;width:120px;text-align:right;top:825.10px;font-size:9.6px;color:#505050;line-height:20px;font-weight:500;">代理工具</div><svg style="left:66px;top:641px;overflow:hidden" width="445" height="199.2" viewBox="0 0 445 199.2"><rect x="80.70" y="79.30" width="1" height="122.70" fill="#eef0f4"/><rect x="81.30" y="82.90" width="3.50" height="11.8" fill="#1fa886"/><rect x="81.30" y="100.50" width="6.70" height="11.8" fill="#1fa886"/><rect x="81.30" y="118.10" width="14.40" height="11.8" fill="#1e88e5"/><rect x="81.30" y="135.70" width="15.50" height="11.8" fill="#de6666"/><rect x="81.30" y="153.30" width="16.70" height="11.8" fill="#de6666"/><rect x="81.30" y="170.90" width="55.50" height="11.8" fill="#de6666"/><rect x="81.30" y="188.50" width="119.80" height="11.8" fill="#1e88e5"/></svg><div class="b" style="left:497.2px;top:689px;width:4.8px;height:102px;background:#9b9b9b;border-radius:2.4px;"></div>
<div class="b" style="left:633px;top:693.3px;width:9.2px;height:9.2px;background:#1e88e5;border-radius:2px;"></div><div class="t" style="left:646.6px;top:687.20px;font-size:9.6px;color:#505050;line-height:20px;font-weight:500;">尝试攻击</div><div class="b" style="left:692.8px;top:693.3px;width:9.2px;height:9.2px;background:#ffa940;border-radius:2px;"></div><div class="t" style="left:706.4px;top:687.20px;font-size:9.6px;color:#505050;line-height:20px;font-weight:500;">攻击成功</div><div class="b" style="left:752.8px;top:693.3px;width:9.2px;height:9.2px;background:#de6666;border-radius:2px;"></div><div class="t" style="left:766.4px;top:687.20px;font-size:9.6px;color:#505050;line-height:20px;font-weight:500;">正在利用</div><div class="b" style="left:812.5px;top:693.3px;width:9.2px;height:9.2px;background:#1fa886;border-radius:2px;"></div><div class="t" style="left:826.1px;top:687.20px;font-size:9.6px;color:#505050;line-height:20px;font-weight:500;">失败</div><div class="t" style="left:473.70000000000005px;width:120px;text-align:right;top:719.15px;font-size:9.6px;color:#505050;line-height:20px;font-weight:500;">代码执行</div><div class="t" style="left:473.70000000000005px;width:120px;text-align:right;top:736.60px;font-size:9.6px;color:#505050;line-height:20px;font-weight:500;">端口扫描</div><div class="t" style="left:473.70000000000005px;width:120px;text-align:right;top:754.05px;font-size:9.6px;color:#505050;line-height:20px;font-weight:500;">弱口令</div><div class="t" style="left:473.70000000000005px;width:120px;text-align:right;top:771.50px;font-size:9.6px;color:#505050;line-height:20px;font-weight:500;">黑市工具</div><div class="t" style="left:473.70000000000005px;width:120px;text-align:right;top:788.95px;font-size:9.6px;color:#505050;line-height:20px;font-weight:500;">信息泄露</div><div class="t" style="left:473.70000000000005px;width:120px;text-align:right;top:806.40px;font-size:9.6px;color:#505050;line-height:20px;font-weight:500;">暴力猜解</div><div class="t" style="left:473.70000000000005px;width:120px;text-align:right;top:823.85px;font-size:9.6px;color:#505050;line-height:20px;font-weight:500;">其他攻击利用</div><svg style="left:519px;top:641px;overflow:hidden" width="445" height="199.2" viewBox="0 0 445 199.2"><rect x="80.50" y="79.00" width="1" height="121.65" fill="#eef0f4"/><rect x="81.10" y="82.60" width="1.80" height="11.7" fill="#1e88e5"/><rect x="81.10" y="100.05" width="2.30" height="11.7" fill="#1e88e5"/><rect x="81.10" y="117.50" width="1.20" height="11.7" fill="#1e88e5"/><rect x="82.30" y="117.50" width="3.10" height="11.7" fill="#ffa940"/><rect x="85.40" y="117.50" width="0.60" height="11.7" fill="#1fa886"/><rect x="81.10" y="134.95" width="15.70" height="11.7" fill="#1e88e5"/><rect x="81.10" y="152.40" width="27.00" height="11.7" fill="#1e88e5"/><rect x="108.10" y="152.40" width="6.70" height="11.7" fill="#ffa940"/><rect x="81.10" y="169.85" width="57.10" height="11.7" fill="#1e88e5"/><rect x="138.20" y="169.85" width="7.80" height="11.7" fill="#ffa940"/><rect x="81.10" y="187.30" width="72.60" height="11.7" fill="#1e88e5"/><rect x="153.70" y="187.30" width="43.40" height="11.7" fill="#ffa940"/><rect x="197.10" y="187.30" width="1.90" height="11.7" fill="#1fa886"/></svg><div class="b" style="left:950.2px;top:689px;width:4.8px;height:123px;background:#9b9b9b;border-radius:2.4px;"></div>
<div class="b" style="left:1086px;top:693.3px;width:9.2px;height:9.2px;background:#1e88e5;border-radius:2px;"></div><div class="t" style="left:1099.6px;top:687.20px;font-size:9.6px;color:#505050;line-height:20px;font-weight:500;">尝试攻击</div><div class="b" style="left:1145.8px;top:693.3px;width:9.2px;height:9.2px;background:#ffa940;border-radius:2px;"></div><div class="t" style="left:1159.3999999999999px;top:687.20px;font-size:9.6px;color:#505050;line-height:20px;font-weight:500;">攻击成功</div><div class="b" style="left:1205.8px;top:693.3px;width:9.2px;height:9.2px;background:#de6666;border-radius:2px;"></div><div class="t" style="left:1219.3999999999999px;top:687.20px;font-size:9.6px;color:#505050;line-height:20px;font-weight:500;">正在利用</div><div class="b" style="left:1265.5px;top:693.3px;width:9.2px;height:9.2px;background:#1fa886;border-radius:2px;"></div><div class="t" style="left:1279.1px;top:687.20px;font-size:9.6px;color:#505050;line-height:20px;font-weight:500;">失败</div><div class="t" style="left:926.5999999999999px;width:120px;text-align:right;top:719.70px;font-size:9.6px;color:#505050;line-height:20px;font-weight:500;">弱口令</div><div class="t" style="left:926.5999999999999px;width:120px;text-align:right;top:738.45px;font-size:9.6px;color:#505050;line-height:20px;font-weight:500;">SQL注入</div><div class="t" style="left:926.5999999999999px;width:120px;text-align:right;top:757.20px;font-size:9.6px;color:#505050;line-height:20px;font-weight:500;">黑市工具</div><div class="t" style="left:926.5999999999999px;width:120px;text-align:right;top:775.95px;font-size:9.6px;color:#505050;line-height:20px;font-weight:500;">其他攻击利用</div><div class="t" style="left:926.5999999999999px;width:120px;text-align:right;top:794.70px;font-size:9.6px;color:#505050;line-height:20px;font-weight:500;">暴力猜解</div><div class="t" style="left:926.5999999999999px;width:120px;text-align:right;top:813.45px;font-size:9.6px;color:#505050;line-height:20px;font-weight:500;">信息泄露</div><svg style="left:972px;top:641px;overflow:hidden" width="445" height="199.2" viewBox="0 0 445 199.2"><rect x="80.40" y="79.60" width="1" height="112.00" fill="#eef0f4"/><rect x="81.00" y="83.20" width="2.30" height="11.6" fill="#1e88e5"/><rect x="81.00" y="101.95" width="6.10" height="11.6" fill="#1e88e5"/><rect x="81.00" y="120.70" width="54.90" height="11.6" fill="#1e88e5"/><rect x="81.00" y="139.45" width="59.70" height="11.6" fill="#1e88e5"/><rect x="140.70" y="139.45" width="1.30" height="11.6" fill="#ffa940"/><rect x="142.00" y="139.45" width="1.00" height="11.6" fill="#1fa886"/><rect x="81.00" y="158.20" width="101.20" height="11.6" fill="#1e88e5"/><rect x="182.20" y="158.20" width="6.90" height="11.6" fill="#ffa940"/><rect x="81.00" y="176.95" width="242.00" height="11.6" fill="#1e88e5"/><rect x="323.00" y="176.95" width="53.70" height="11.6" fill="#1fa886"/></svg><div class="b" style="left:1403.2px;top:689px;width:4.8px;height:143px;background:#9b9b9b;border-radius:2.4px;"></div>
<svg style="left:1040.9px;top:507.79999999999995px" width="90" height="90" viewBox="-45 -45 90 90"><path d="M0.00 -39.90 A39.9 39.9 0 0 1 4.52 -39.64 L2.24 -19.67 A19.8 19.8 0 0 0 0.00 -19.80 Z" fill="#7b3ff2"/><path d="M4.52 -39.64 A39.9 39.9 0 0 1 39.42 6.17 L19.56 3.06 A19.8 19.8 0 0 0 2.24 -19.67 Z" fill="#eb6699"/><path d="M39.42 6.17 A39.9 39.9 0 0 1 -33.23 22.09 L-16.49 10.96 A19.8 19.8 0 0 0 19.56 3.06 Z" fill="#e85fe0"/><path d="M-33.23 22.09 A39.9 39.9 0 0 1 -35.52 18.18 L-17.62 9.02 A19.8 19.8 0 0 0 -16.49 10.96 Z" fill="#f40fbf"/><path d="M-35.52 18.18 A39.9 39.9 0 0 1 -17.23 -35.99 L-8.55 -17.86 A19.8 19.8 0 0 0 -17.62 9.02 Z" fill="#9083d8"/><path d="M-17.23 -35.99 A39.9 39.9 0 0 1 -0.00 -39.90 L-0.00 -19.80 A19.8 19.8 0 0 0 -8.55 -17.86 Z" fill="#0a90ff"/></svg><div class="t" style="left:984.6px;top:474.10px;font-size:16.6px;color:#6f84ab;line-height:20px;font-weight:700;letter-spacing:0.6px;">830</div><div class="t" style="left:985px;top:494.60px;font-size:9.6px;color:#a3a3a3;line-height:20px;">总数</div><div class="b" style="left:1250.6px;top:476.8px;width:20px;height:11.4px;background:#7b3ff2;border-radius:2.6px;"></div><div class="t" style="left:1274.8px;top:471.70px;font-size:9.6px;color:#7185ac;line-height:20px;">挖矿病毒: 15 (1.81%)</div><div class="b" style="left:1250.6px;top:495.95px;width:20px;height:11.4px;background:#eb6699;border-radius:2.6px;"></div><div class="t" style="left:1274.8px;top:490.85px;font-size:9.6px;color:#7185ac;line-height:20px;">流氓推广: 213 (25.66%)</div><div class="b" style="left:1250.6px;top:515.1px;width:20px;height:11.4px;background:#e85fe0;border-radius:2.6px;"></div><div class="t" style="left:1274.8px;top:510.00px;font-size:9.6px;color:#7185ac;line-height:20px;">僵尸网络: 317 (38.19%)</div><div class="b" style="left:1250.6px;top:534.25px;width:20px;height:11.4px;background:#f40fbf;border-radius:2.6px;"></div><div class="t" style="left:1274.8px;top:529.15px;font-size:9.6px;color:#7185ac;line-height:20px;">感染型病毒: 15 (1.81%)</div><div class="b" style="left:1250.6px;top:553.4px;width:20px;height:11.4px;background:#9083d8;border-radius:2.6px;"></div><div class="t" style="left:1274.8px;top:548.30px;font-size:9.6px;color:#7185ac;line-height:20px;">网络蠕虫: 211 (25.42%)</div><div class="b" style="left:1250.6px;top:572.55px;width:20px;height:11.4px;background:#0a90ff;border-radius:2.6px;"></div><div class="t" style="left:1274.8px;top:567.45px;font-size:9.6px;color:#7185ac;line-height:20px;">远控木马: 59 (7.11%)</div><div class="b" style="left:1250.6px;top:591.7px;width:20px;height:11.4px;background:#4da6ff;border-radius:2.6px;"></div><div class="t" style="left:1274.8px;top:586.60px;font-size:9.6px;color:#7185ac;line-height:20px;">APT事件 - 0%</div><div class="b" style="left:1280px;top:610px;width:80px;height:13.7px;overflow:hidden"><svg style="left:8.6px;top:6.6px" width="8" height="8" viewBox="0 0 8 8"><path d="M4 0.4 L7.6 7 H0.4 Z" fill="#aaa"/></svg><div class="t" style="left:26.6px;top:2.6px;font-size:9.6px;line-height:18px;color:#333;letter-spacing:0.4px">1/3</div><svg style="left:49.8px;top:7.2px" width="12" height="9" viewBox="0 0 12 9"><path d="M0.3 0.3 H11.7 L8.4 7 Q6 9 3.6 7 Z" fill="#2f4554"/></svg></div><div class="b" style="left:1403.2px;top:473px;width:4.8px;height:143px;background:#9b9b9b;border-radius:2.4px;"></div>
<div class="t" style="left:493.5px;width:500px;text-align:center;top:878.60px;font-size:9.6px;color:#d3d6db;line-height:20px;">Copyright © 2005-2022 QIANXIN.COM All Rights Reserved 奇安信</div>
<div class="b" style="left:49px;top:39px;width:1386px;height:29px;background:#fff;"></div>
<div class="b" style="left:50px;top:68px;width:1385px;height:1px;background:#f1f3f8;"></div>
<div class="t" style="left:62px;top:42.50px;font-size:9.6px;color:#666;line-height:20px;">监测中心</div>
<svg style="left:108px;top:47.5px" width="6" height="9" viewBox="0 0 6 9"><path d="M1.2 0.8 L4.8 4.5 L1.2 8.2" fill="none" stroke="#999" stroke-width="0.9"/></svg>
<div class="t" style="left:119.2px;top:42.50px;font-size:9.6px;color:#666;line-height:20px;">仪表板</div>
<div class="b" style="left:886.3px;top:43px;width:114.4px;height:19px;background:#fff;border:1px solid #d0d0d0;border-radius:3px;"></div><div class="t" style="left:893.8px;top:42.80px;font-size:9.6px;color:#111;line-height:20px;">告警统计: 默认</div><svg style="left:984.8px;top:48.4px" width="9" height="6" viewBox="0 0 9 6"><path d="M0.8 0.9 L4.5 4.6 L8.2 0.9" fill="none" stroke="#555" stroke-width="0.9"/></svg>
<div class="b" style="left:1007.3px;top:43px;width:115.4px;height:19px;background:#fff;border:1px solid #d0d0d0;border-radius:3px;"></div><div class="t" style="left:1015px;top:42.80px;font-size:9.6px;color:#111;line-height:20px;">今天</div><svg style="left:1106.8px;top:48.4px" width="9" height="6" viewBox="0 0 9 6"><path d="M0.8 0.9 L4.5 4.6 L8.2 0.9" fill="none" stroke="#555" stroke-width="0.9"/></svg>
<div class="b" style="left:1129.3px;top:43px;width:114.4px;height:19px;background:#fff;border:1px solid #d0d0d0;border-radius:3px;"></div><div class="b" style="left:1132.1px;top:46.6px;width:11.4px;height:11.4px;background:#f3f3f3;border:1px solid #c8c8c8;border-radius:2px;"></div><svg style="left:1133.8999999999999px;top:49px" width="8" height="7" viewBox="0 0 8 7"><path d="M0.8 3.4 L3 5.6 L7.2 1" fill="none" stroke="#b5b5b5" stroke-width="1"/></svg><div class="t" style="left:1145px;top:42.80px;font-size:9.6px;color:#111;line-height:20px;">外部攻击, 外 ...</div><svg style="left:1227.8px;top:48.4px" width="9" height="6" viewBox="0 0 9 6"><path d="M0.8 0.9 L4.5 4.6 L8.2 0.9" fill="none" stroke="#555" stroke-width="0.9"/></svg>
<div class="b" style="left:1257px;top:46px;width:1px;height:14.4px;background:#c9c9c9;"></div>
<div class="b" style="left:1354.2px;top:46px;width:1px;height:14.4px;background:#c9c9c9;"></div>
<div class="b" style="left:1271.2px;top:44.2px;width:18.8px;height:18.6px;background:#fff;border:1px solid #d4d4d4;border-radius:3px;"></div><svg style="left:1271.2px;top:44.2px" width="18.8" height="18.6" viewBox="0 0 18.8 18.6"><path d="M5.2 5.6 A4.7 4.7 0 1 1 7.6 11.9" fill="none" stroke="#555" stroke-width="0.9"/><path d="M3.2 3.2 L4.6 6.4 L7.8 5.2" fill="none" stroke="#555" stroke-width="0.9"/><path d="M2.8 13.5 H15.4" stroke="#555" stroke-width="0.9"/></svg>
<div class="b" style="left:1296.4px;top:44.2px;width:18.8px;height:18.6px;background:#fff;border:1px solid #d4d4d4;border-radius:3px;"></div><svg style="left:1296.4px;top:44.2px" width="18.8" height="18.6" viewBox="0 0 18.8 18.6"><path d="M9.4 3.7 L14.2 6.5 V12.1 L9.4 14.9 L4.6 12.1 V6.5 Z" transform="rotate(30 9.4 9.3)" fill="none" stroke="#555" stroke-width="0.9" stroke-linejoin="round"/><circle cx="9.4" cy="9.3" r="2.2" fill="none" stroke="#555" stroke-width="0.9"/></svg>
<div class="b" style="left:1322.2px;top:44.2px;width:18.8px;height:18.6px;background:#fff;border:1px solid #d4d4d4;border-radius:3px;"></div><svg style="left:1322.2px;top:44.2px" width="18.8" height="18.6" viewBox="0 0 18.8 18.6"><path d="M13.6 6.4 A5.2 5.2 0 1 0 14.4 11.4" fill="none" stroke="#555" stroke-width="0.9"/><path d="M10.6 3.2 L14.4 4 L13.4 7.4" fill="none" stroke="#555" stroke-width="0.9"/></svg>
<div class="b" style="left:1368px;top:47px;width:12.4px;height:12.8px;background:#0a5bad;border-radius:2.4px;"></div>
<svg style="left:1368px;top:47px" width="12.4" height="12.8" viewBox="0 0 12.4 12.8"><path d="M3 6.6 L5.4 9 L9.6 4.4" fill="none" stroke="#fff" stroke-width="1.2"/></svg>
<div class="t" style="left:1386.6px;top:43.00px;font-size:9.6px;color:#4a4a4a;line-height:20px;">自动刷新</div>
<div class="b" style="left:0px;top:0px;width:1435px;height:39px;background:#005bac;"></div>
<div class="b" style="left:0px;top:0px;width:49px;height:39px;background:#0b4d89;"></div>
<svg style="left:0px;top:0px" width="49" height="39" viewBox="0 0 49 39"><path d="M12.7 12 L15.4 9.4 L20.4 8.2 L21.8 8.9 L28 13.8 L28.5 15.8 L32.7 16.6 L33.1 22.3 L34 23.2 L34 28.9 L31.4 29.1 L30.6 27.2 L29.8 29.8 L18.4 30.2 L21.4 22.4 L20 18.4 L14.4 17.6 L13 14.2 Z" fill="#fccc00"/><path d="M20.6 16.6 L29.6 16 L30.2 29.4 L18.6 30 L21.6 22.4 Z" fill="#e6e018"/><path d="M14.2 17.8 L19.8 18.4 L21.2 22.2 L18.4 29.6 L14.4 30.4 L14 23.6 Z" fill="#1b3fb0"/><path d="M14.2 19 L16.4 18.2 L15.6 22.6 L14.2 23.4 Z" fill="#0f6a66"/><path d="M14.2 29.4 H29.6 V30.7 H14.2 Z" fill="#2a6a1e"/><path d="M22.6 17 h1.5 v4.6 h-1.5z M28.1 20 h1.4 v4.4 h-1.4z M24.6 25.4 h1.4 v3 h-1.4z" fill="#7a2a3a"/><path d="M22.4 19.6 h1 v1.2 h-1z M28.4 15.6 h1.2 v2.6 h-1.2z M24.2 28.4 h1.8 v1.2 h-1.8z" fill="#e8b8e8"/></svg>
<svg style="left:74px;top:11px" width="14" height="14" viewBox="0 0 14 14"><path d="M0 1.6 H13 M0 6.5 H13 M0 11.4 H13" stroke="#fff" stroke-width="1.3"/></svg>
<div class="b" style="left:112px;top:0px;width:1px;height:39px;background:rgba(255,255,255,0.45);"></div>
<div class="b" style="left:113px;top:37px;width:68px;height:2px;background:#fff;"></div>
<div class="t" style="left:124.4px;top:9.70px;font-size:11.2px;color:#fff;line-height:20px;">监测中心</div>
<div class="t" style="left:193px;top:9.70px;font-size:11.2px;color:#b9d1eb;line-height:20px;">威胁感知</div>
<div class="t" style="left:262px;top:9.70px;font-size:11.2px;color:#b9d1eb;line-height:20px;">分析中心</div>
<div class="t" style="left:331px;top:9.70px;font-size:11.2px;color:#b9d1eb;line-height:20px;">响应处置</div>
<div class="t" style="left:399.6px;top:9.70px;font-size:11.2px;color:#b9d1eb;line-height:20px;">资产感知</div>
<div class="t" style="left:469px;top:9.70px;font-size:11.2px;color:#b9d1eb;line-height:20px;">报表报告</div>
<div class="t" style="left:537.6px;top:9.70px;font-size:11.2px;color:#b9d1eb;line-height:20px;">更多</div>
<div class="t" style="left:587.8px;top:10.60px;font-size:11.2px;color:#9fbfe2;line-height:20px;">全局导航</div>
<svg style="left:1244px;top:12.2px" width="13" height="14.5" viewBox="0 0 13 14.5"><path d="M0.7 1.6 Q6.5 0.2 12.3 1.6 V8 Q12.3 11.8 6.5 13.8 Q0.7 11.8 0.7 8 Z" fill="none" stroke="#c4daf2" stroke-width="1.15"/></svg>
<div class="t" style="left:1246.3px;top:9.40px;font-size:8.4px;color:#d3e3f6;line-height:20px;font-weight:700;">保</div>
<div class="t" style="left:1260.4px;top:10.30px;font-size:9.6px;color:#d9e7f7;line-height:20px;font-weight:700;">重保</div>
<div class="b" style="left:1292px;top:13px;width:1px;height:10px;background:rgba(255,255,255,0.55);"></div>
<svg style="left:1306px;top:12px" width="16.4" height="15.6" viewBox="0 0 16.4 15.6"><rect width="16.4" height="15.6" fill="#fff"/><g fill="none" stroke="#3a3a30" stroke-width="1.7"><rect x="2.4" y="2.2" width="4.4" height="4.2"/><rect x="9.6" y="2.2" width="4.4" height="4.2"/><rect x="2.4" y="9.2" width="4.4" height="4.2"/></g><path d="M9 8.8 h5.8 v5 h-2.2 v-2.4 h-1.4 v2.4 h-2.2z" fill="#2b2b22"/></svg>
<svg style="left:1333.2px;top:13.4px" width="13.4" height="11" viewBox="0 0 13.4 11"><rect x="0.6" y="0.6" width="12.2" height="9.8" fill="none" stroke="#c4daf2" stroke-width="1.1"/><path d="M0.8 0.9 L6.7 6 L12.6 0.9 M0.8 10.2 L5 4.6 M12.6 10.2 L8.4 4.6" fill="none" stroke="#c4daf2" stroke-width="1"/></svg>
<div class="b" style="left:1344px;top:-0.6px;width:28px;height:14px;background:#f5222d;border-radius:7px;border:1px solid #fff;"></div>
<div class="t" style="left:1338.0px;width:40px;text-align:center;top:0.30px;font-size:9.2px;color:#fff;line-height:14px;font-weight:700;">99+</div>
<svg style="left:1372px;top:11px" width="14.4" height="13.6" viewBox="-7.2 -6.8 14.4 13.6"><path d="M-2.2 -5.6 Q-3.2 -5.6 -3.8 -4.7 L-5.9 -1 Q-6.4 0 -5.9 1 L-3.8 4.7 Q-3.2 5.6 -2.2 5.6 H2.2 Q3.2 5.6 3.8 4.7 L5.9 1 Q6.4 0 5.9 -1 L3.8 -4.7 Q3.2 -5.6 2.2 -5.6 Z" fill="none" stroke="#c4daf2" stroke-width="1.15"/><circle r="2.3" fill="none" stroke="#c4daf2" stroke-width="1.15"/></svg>
<svg style="left:1405px;top:11px" width="14" height="14" viewBox="0 0 14 14"><circle cx="7" cy="3.8" r="3" fill="none" stroke="#c4daf2" stroke-width="1.1"/><path d="M0.8 13.2 Q0.8 8 7 8 Q13.2 8 13.2 13.2 Z" fill="none" stroke="#c4daf2" stroke-width="1.1" stroke-linejoin="round"/></svg>
<div class="b" style="left:0px;top:39px;width:49px;height:860px;background:#005bac;"></div>
<div class="b" style="left:4px;top:45px;width:40px;height:32px;background:#0a84ff;border-radius:3px;"></div>
<svg style="left:18px;top:54.6px" width="13.4" height="12" viewBox="0 0 13.4 12"><path d="M2.2 10.8 Q0.3 8.4 0.9 5.8 Q2.2 1.7 6.7 1.7 Q11.2 1.7 12.5 5.8 Q13.1 8.4 11.2 10.8 Z" fill="none" stroke="#fff" stroke-width="1.4" stroke-linejoin="round"/><path d="M1.6 8.4 H11.8 M6.7 3 v1.4 M3.6 4.2 l0.9 1 M9.8 4.2 l-0.9 1 M6.4 7.6 L7.8 5.8" stroke="#fff" stroke-width="1.1" fill="none"/></svg>
<svg style="left:19.2px;top:92.8px" width="11" height="11.4" viewBox="0 0 11 11.4"><rect x="0.6" y="0.6" width="9.6" height="9.4" fill="none" stroke="#6a9dd0" stroke-width="1.1"/><path d="M2.6 9.4 V5.4 M5.5 9.4 V3 M8.4 9.4 V6.4 M2.6 3 L5.5 5 L8.4 2.6" fill="none" stroke="#6a9dd0" stroke-width="1"/></svg>
<svg style="left:18.2px;top:129.6px" width="12.6" height="10.6" viewBox="0 0 12.6 10.6"><rect x="0.6" y="0.6" width="11.4" height="6.2" rx="0.8" fill="none" stroke="#6a9dd0" stroke-width="1.1"/><path d="M3 3 v1.2 M6.3 3 v1.2 M9.6 3 v1.2" stroke="#6a9dd0" stroke-width="1.2"/><path d="M1.6 8.4 H11 M3.6 10 H9" stroke="#6a9dd0" stroke-width="1"/></svg>
<svg style="left:18.2px;top:166.6px" width="12.6" height="10.8" viewBox="0 0 12.6 10.8"><rect x="0.6" y="0.6" width="11.4" height="7.6" rx="0.8" fill="none" stroke="#6a9dd0" stroke-width="1.1"/><path d="M1.4 5.6 L4.4 3.6 L7 5.6 L10.6 2.4 M8.8 2.2 H10.8 V4.2" fill="none" stroke="#6a9dd0" stroke-width="1"/><path d="M2.4 10 H10.2" stroke="#6a9dd0" stroke-width="1"/></svg>
<svg style="left:19px;top:204.3px" width="11" height="9" viewBox="0 0 11 9"><path d="M0.6 0.6 H10.4 V6.6 Q10.4 8.4 8.6 8.4 H2.4 Q0.6 8.4 0.6 6.6 Z" fill="none" stroke="#6a9dd0" stroke-width="1.1"/><path d="M3.4 3 L5.5 5 L7.6 3" fill="none" stroke="#6a9dd0" stroke-width="1"/></svg>
<div class="b" style="left:1420px;top:69px;width:13px;height:830px;background:#f2f5fa;"></div>
<div class="b" style="left:1433.2px;top:111.5px;width:1.8px;height:769px;background:#8c8c8c;"></div>
<div class="b" style="left:1422px;top:359px;width:56px;height:56px;background:#0a5bad;border-radius:50%;"></div>
<div class="b" style="left:1380.9px;top:757.9px;width:51px;height:51px;background:#0a84ff;border-radius:50%;box-shadow:0 0 4px rgba(10,132,255,0.5);"></div>
<svg style="left:1386px;top:766px" width="40" height="34" viewBox="0 0 40 34"><ellipse cx="20.7" cy="14.4" rx="13.1" ry="13.2" fill="#fff"/><ellipse cx="5.6" cy="18.2" rx="2.9" ry="3.4" fill="#fff"/><ellipse cx="35.6" cy="18.2" rx="2.9" ry="3.4" fill="#fff"/><path d="M20.6 27.6 L23.2 32.4 L25.4 27.6 Z" fill="#fff"/><rect x="7.2" y="9.3" width="26.4" height="19.6" rx="4" fill="#fff"/><rect x="8" y="10.1" width="24.8" height="18" rx="3.3" fill="#0f1a4d"/><rect x="12.4" y="15.2" width="2.2" height="6.6" rx="0.6" fill="#1e90ff"/><path d="M27 16.6 L22.6 19.2 L27 21.8" fill="none" stroke="#1e78e0" stroke-width="1.8"/><path d="M21.6 25.6 Q26 23.4 31.6 24.6" fill="none" stroke="#1e78e0" stroke-width="1.2"/></svg>
</div></body></html>
